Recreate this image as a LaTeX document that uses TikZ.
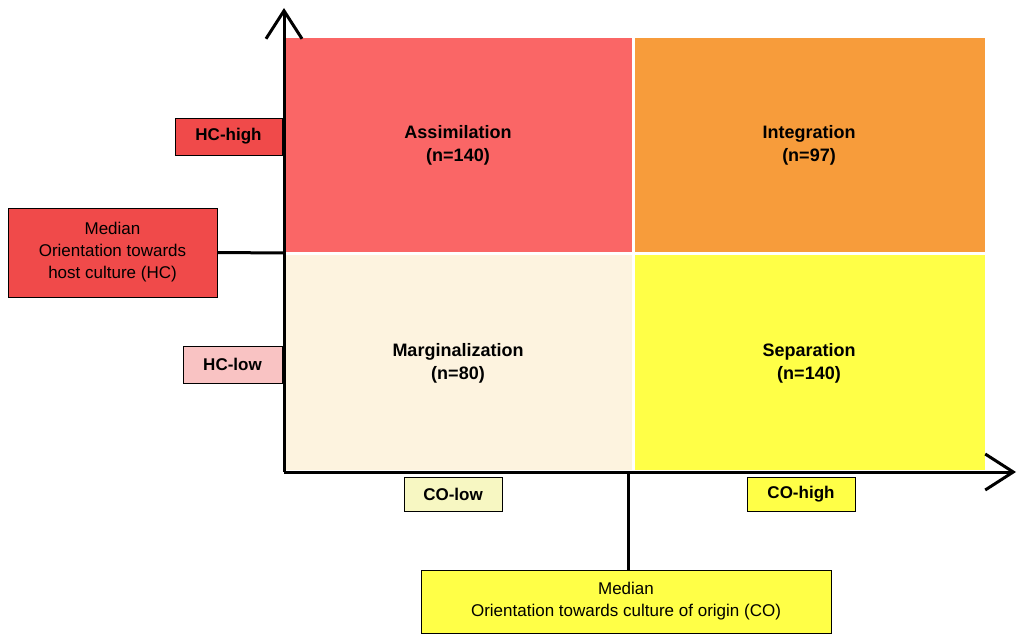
\documentclass[tikz,border=0pt]{standalone}
\usepackage{fontspec}
\setmainfont{Liberation Sans}
\usetikzlibrary{arrows.meta}
\definecolor{assim}{HTML}{FA6666}
\definecolor{integ}{HTML}{F79C3B}
\definecolor{marg}{HTML}{FDF3DF}
\definecolor{sep}{HTML}{FFFF47}
\definecolor{hchigh}{HTML}{F04A4A}
\definecolor{hclow}{HTML}{F9C3C3}
\definecolor{colow}{HTML}{F7F7C2}
\tikzset{
  quad/.style={inner sep=0pt,align=center,font=\fontsize{18pt}{23pt}\selectfont\bfseries},
  lab/.style={draw=black,line width=0.8pt,inner sep=0pt,align=center,font=\fontsize{17pt}{22pt}\selectfont},
  axis/.style={line width=3pt,-{Straight Barb[length=28pt,width=36pt,line width=3pt]}},
  med/.style={line width=3pt}
}
\begin{document}
\begin{tikzpicture}[x=1pt,y=-1pt]
\useasboundingbox (0,0) rectangle (1024,639);
\fill[assim] (285,38) rectangle (632,252);
\fill[integ] (635,38) rectangle (985,252);
\fill[marg] (285,255) rectangle (632,470);
\fill[sep] (635,255) rectangle (985,470);
\node[quad] (a) at (458,145) {Assimilation\\(n=140)};
\node[quad] (i) at (809,145) {Integration\\(n=97)};
\node[quad] (m) at (458,363) {Marginalization\\(n=80)};
\node[quad] (s) at (809,363) {Separation\\(n=140)};
\coordinate (o) at (284,472);
\coordinate (ytop) at (284,8);
\coordinate (xend) at (1016,472);
\draw[axis] (o) -- (ytop);
\draw[axis] (o) -- (xend);
\node[lab,fill=hchigh,minimum width=107pt,minimum height=37pt] (hch) at (228.5,136.5) {\bfseries HC-high};
\node[lab,fill=hchigh,minimum width=209pt,minimum height=89pt] (mhc) at (112.5,252.5) {Median\\Orientation towards\\host culture (HC)};
\node[lab,fill=hclow,minimum width=99pt,minimum height=37pt] (hcl) at (232.5,364.5) {\bfseries HC-low};
\node[lab,fill=colow,minimum width=98pt,minimum height=34pt] (col) at (453,494) {\bfseries CO-low};
\node[lab,fill=sep,minimum width=108pt,minimum height=34pt] (coh) at (801,494) {\bfseries CO-high};
\node[lab,fill=sep,minimum width=410pt,minimum height=63pt] (mco) at (626,601.5) {Median\\Orientation towards culture of origin (CO)};
\coordinate (hcm) at (284,253);
\coordinate (com) at (628,472);
\draw[med] (mhc.east) -- (hcm);
\draw[med] (com) -- (com |- mco.north);
\end{tikzpicture}
\end{document}
